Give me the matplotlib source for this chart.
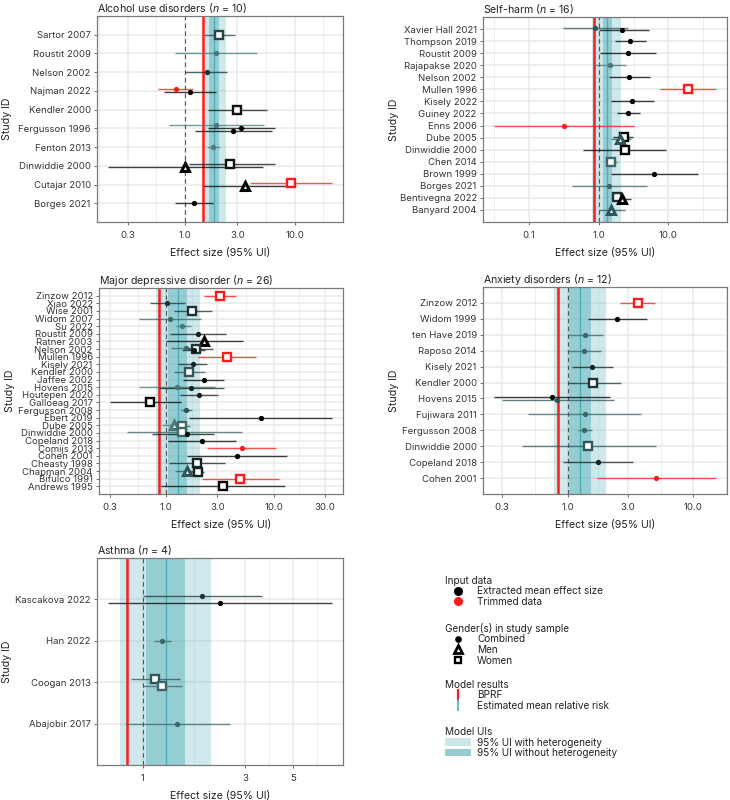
import numpy as np
import matplotlib
matplotlib.use('Agg')
import matplotlib.pyplot as plt
from matplotlib.colors import LinearSegmentedColormap
from matplotlib.lines import Line2D
from matplotlib.patches import Patch

plt.rcParams['font.family'] = ['Inter', 'DejaVu Sans']
plt.rcParams['mathtext.fontset'] = 'custom'
plt.rcParams['mathtext.rm'] = 'Inter'
plt.rcParams['mathtext.it'] = 'Inter:italic'

# ---------------- data (effect sizes) ----------------
# Alcohol use disorders
AUD_STUDY = ['Sartor 2007', 'Roustit 2009', 'Nelson 2002', 'Najman 2022', 'Najman 2022',
             'Kendler 2000', 'Fergusson 1996', 'Fergusson 1996', 'Fergusson 1996',
             'Fenton 2013', 'Dinwiddie 2000', 'Dinwiddie 2000', 'Cutajar 2010',
             'Cutajar 2010', 'Borges 2021']
AUD_MEAN = [2.05, 1.91, 1.59, 0.83, 1.11, 3.01, 1.94, 3.27, 2.75, 1.81, 2.55, 1.01, 9.26, 3.51, 1.22]
AUD_LOWER = [1.49, 0.81, 1.01, 0.57, 0.64, 1.63, 0.72, 1.62, 1.23, 1.60, 1.09, 0.20, 3.90, 1.49, 0.81]
AUD_UPPER = [2.87, 4.54, 2.44, 1.19, 1.94, 5.60, 5.23, 6.67, 6.22, 2.11, 6.67, 5.15, 21.8, 8.40, 1.81]
AUD_SEX = ['W', 'C', 'C', 'C', 'C', 'W', 'C', 'C', 'C', 'C', 'W', 'M', 'W', 'M', 'C']
AUD_TRIM = [0, 0, 0, 1, 0, 0, 0, 0, 0, 0, 0, 0, 1, 0, 0]
AUD_WEIGHT = [0.6, 0.3, 0.7, 0.0, 1.0, 0.9, 0.3, 1.0, 1.0, 0.25, 0.9, 1.0, 0.0, 1.0, 1.0]
# bprf, mean, lower/upper without heterogeneity, lower/upper with heterogeneity
AUD_MODEL = [1.47, 1.84, 1.66, 2.05, 1.52, 2.39]

# Self-harm
SH_STUDY = ['Xavier Hall 2021', 'Xavier Hall 2021', 'Thompson 2019', 'Roustit 2009',
            'Rajapakse 2020', 'Nelson 2002', 'Mullen 1996', 'Kisely 2022', 'Guiney 2022',
            'Enns 2006', 'Dube 2005', 'Dube 2005', 'Dinwiddie 2000', 'Chen 2014',
            'Brown 1999', 'Borges 2021', 'Bentivegna 2022', 'Bentivegna 2022', 'Banyard 2004']
SH_MEAN = [0.90, 2.19, 2.81, 2.63, 1.45, 2.72, 18.9, 3.00, 2.63, 0.32, 2.29, 2.05, 2.36, 1.50,
           6.17, 1.40, 1.82, 2.19, 1.50]
SH_LOWER = [0.31, 1.00, 1.69, 1.06, 0.87, 1.39, 7.5, 1.50, 1.82, 0.032, 1.60, 1.50, 0.60, 1.26,
            1.51, 0.41, 1.55, 1.63, 1.01]
SH_UPPER = [2.66, 5.20, 4.74, 6.58, 2.47, 5.46, 47.7, 6.20, 3.86, 3.20, 3.10, 2.90, 9.10, 1.86,
            26.2, 4.90, 2.30, 2.87, 2.39]
SH_SEX = ['C', 'C', 'C', 'C', 'C', 'C', 'W', 'C', 'C', 'C', 'W', 'M', 'W', 'W', 'C', 'C', 'W', 'M', 'M']
SH_TRIM = [0, 0, 0, 0, 0, 0, 1, 0, 0, 1, 0, 0, 0, 0, 0, 0, 0, 0, 0]
SH_WEIGHT = [0.5, 1.0, 1.0, 1.0, 0.3, 1.0, 0.0, 1.0, 1.0, 0.0, 1.0, 0.5, 1.0, 0.4, 1.0, 0.4,
             0.7, 1.0, 0.5]
SH_MODEL = [0.85, 1.33, 1.15, 1.55, 0.80, 2.10]

# Major depressive disorder
MDD_STUDY = ['Zinzow 2012', 'Xiao 2022', 'Wise 2001', 'Widom 2007', 'Su 2022', 'Roustit 2009',
             'Ratner 2003', 'Nelson 2002', 'Nelson 2002', 'Nelson 2002', 'Mullen 1996',
             'Kisely 2021', 'Kendler 2000', 'Jaffee 2002', 'Hovens 2015', 'Hovens 2015',
             'Houtepen 2020', 'Galloeag 2017', 'Fergusson 2008', 'Ebert 2019', 'Dube 2005',
             'Dube 2005', 'Dinwiddie 2000', 'Dinwiddie 2000', 'Copeland 2018', 'Comijs 2013',
             'Cohen 2001', 'Cheasty 1998', 'Chapman 2004', 'Chapman 2004', 'Bifulco 1991',
             'Andrews 1995']
MDD_MEAN = [3.15, 1.02, 1.75, 1.09, 1.41, 1.97, 2.27, 1.53, 1.89, 1.80, 3.68, 1.76, 1.64, 2.23,
            1.26, 1.71, 2.01, 0.71, 1.54, 7.57, 1.18, 1.39, 1.41, 1.55, 2.13, 5.09, 4.58, 1.95,
            1.57, 1.97, 4.89, 3.38]
MDD_LOWER = [2.24, 0.71, 1.19, 0.56, 1.23, 1.09, 1.00, 1.10, 1.45, 1.40, 1.99, 1.30, 1.19, 1.42,
             0.56, 0.86, 1.35, 0.30, 1.37, 1.63, 0.91, 1.15, 0.43, 0.73, 1.03, 2.42, 1.57, 1.07,
             1.20, 1.55, 2.13, 0.89]
MDD_UPPER = [4.48, 1.50, 2.68, 2.10, 1.70, 3.57, 5.23, 2.10, 2.70, 2.30, 6.90, 2.42, 2.31, 3.47,
             2.83, 3.45, 3.04, 1.36, 1.73, 34.9, 1.50, 1.68, 5.07, 2.76, 4.45, 10.6, 13.4, 3.52,
             2.05, 2.24, 11.3, 12.8]
MDD_SEX = ['W', 'C', 'W', 'C', 'C', 'C', 'M', 'C', 'W', 'C', 'W', 'C', 'W', 'C', 'C', 'C', 'C',
           'W', 'C', 'C', 'M', 'W', 'W', 'C', 'C', 'C', 'C', 'W', 'M', 'W', 'W', 'W']
MDD_TRIM = [1, 0, 0, 0, 0, 0, 0, 0, 0, 0, 1, 0, 0, 0, 0, 0, 0, 0, 0, 0, 0, 0, 0, 0, 0, 1, 0, 0,
            0, 0, 1, 0]
MDD_WEIGHT = [0.0, 0.7, 0.7, 0.4, 0.3, 0.8, 1.0, 0.4, 0.7, 0.9, 0.0, 0.8, 0.5, 1.0, 0.3, 0.8,
              0.8, 1.0, 0.5, 1.0, 0.3, 0.4, 0.4, 0.9, 1.0, 0.0, 1.0, 0.8, 0.5, 0.8, 0.0, 1.0]
MDD_MODEL = [0.85, 1.28, 1.03, 1.55, 0.80, 2.05]

# Anxiety disorders
ANX_STUDY = ['Zinzow 2012', 'Widom 1999', 'ten Have 2019', 'Raposo 2014', 'Kisely 2021',
             'Kendler 2000', 'Hovens 2015', 'Hovens 2015', 'Fujiwara 2011', 'Fergusson 2008',
             'Dinwiddie 2000', 'Copeland 2018', 'Cohen 2001']
ANX_MEAN = [3.61, 2.48, 1.38, 1.35, 1.57, 1.60, 0.75, 0.83, 1.37, 1.36, 1.46, 1.75, 5.00]
ANX_LOWER = [2.61, 1.45, 1.00, 0.99, 1.09, 1.00, 0.26, 0.30, 0.48, 1.20, 0.43, 0.92, 1.70]
ANX_UPPER = [4.97, 4.24, 1.90, 1.85, 2.28, 2.67, 2.18, 2.35, 3.86, 1.56, 5.06, 3.32, 15.1]
ANX_SEX = ['W', 'C', 'C', 'C', 'C', 'W', 'C', 'C', 'C', 'C', 'W', 'C', 'C']
ANX_TRIM = [1, 0, 0, 0, 0, 0, 0, 0, 0, 0, 0, 0, 1]
ANX_WEIGHT = [0.0, 1.0, 0.4, 0.4, 0.8, 0.7, 1.0, 0.5, 0.4, 0.4, 0.5, 0.8, 0.0]
ANX_MODEL = [0.84, 1.26, 1.02, 1.53, 0.785, 2.02]

# Asthma
AST_STUDY = ['Kascakova 2022', 'Kascakova 2022', 'Han 2022', 'Coogan 2013', 'Coogan 2013',
             'Abajobir 2017']
AST_MEAN = [1.89, 2.29, 1.23, 1.14, 1.23, 1.45]
AST_LOWER = [1.00, 0.69, 1.13, 0.88, 1.00, 0.83]
AST_UPPER = [3.60, 7.60, 1.35, 1.49, 1.53, 2.55]
AST_SEX = ['C', 'C', 'C', 'W', 'W', 'C']
AST_TRIM = [0, 0, 0, 0, 0, 0]
AST_WEIGHT = [0.7, 1.0, 0.4, 0.5, 0.4, 0.4]
AST_MODEL = [0.845, 1.28, 1.036, 1.57, 0.78, 2.08]

# ---------------- styling ----------------
RED = '#ff1a1a'
TEAL = '#5fb3bd'
MEAN_LINE = '#4aaeb8'
GRID = '#ebebeb'
weight_cmap = LinearSegmentedColormap.from_list('w', ['#6fa4a7', '#2f5658', '#000000'])
MARKERS = {'C': dict(marker='o', ms=3.8, mew=0),
           'M': dict(marker='^', ms=6.0, mew=2.2),
           'W': dict(marker='s', ms=5.4, mew=1.7)}
DODGE = 0.16


def minor_breaks(major, lo, hi):
    lm = np.log10(major)
    ext = np.concatenate([[lm[0] - (lm[1] - lm[0])], lm, [lm[-1] + (lm[-1] - lm[-2])]])
    mids = (ext[:-1] + ext[1:]) / 2
    mids = mids[(mids > np.log10(lo)) & (mids < np.log10(hi))]
    return 10 ** mids


def panel(rect, title, study, mean, lower, upper, sex, trim, weight, model, ticks, ticklabels):
    ax = fig.add_axes(rect)
    rows = sorted(set(study), key=str.lower)
    ypos = {s: i + 1 for i, s in enumerate(rows)}

    # x limits: data range + 5% in log space
    lo_all = min(min(lower), *model)
    hi_all = max(max(upper), *model)
    span = np.log10(hi_all) - np.log10(lo_all)
    xlo = 10 ** (np.log10(lo_all) - 0.05 * span)
    xhi = 10 ** (np.log10(hi_all) + 0.05 * span)
    ax.set_xscale('log')
    ax.set_xlim(xlo, xhi)
    ax.set_ylim(0, len(rows) + 1)

    # grid
    for s in rows:
        ax.axhline(ypos[s], color=GRID, lw=1.1, zorder=0)
    for t in ticks:
        ax.axvline(t, color=GRID, lw=1.1, zorder=0)
    for t in minor_breaks(ticks, xlo, xhi):
        ax.axvline(t, color=GRID, lw=0.6, zorder=0)

    bprf, mu, lo_n, hi_n, lo_h, hi_h = model
    ax.axvspan(lo_h, hi_h, color=TEAL, alpha=0.3, lw=0, zorder=1)
    ax.axvspan(lo_n, hi_n, color=TEAL, alpha=0.5, lw=0, zorder=1.1)
    ax.axvline(mu, color=MEAN_LINE, lw=1.0, zorder=1.2)
    ax.axvline(1.0, color='#555555', lw=0.8, dashes=(4, 3), zorder=1.3)
    ax.axvline(bprf, color=RED, lw=1.8, zorder=1.4)

    # dodge points within a study
    counts = {s: study.count(s) for s in rows}
    seen = {s: 0 for s in rows}
    for s, m, lo, hi, g, tr, w in zip(study, mean, lower, upper, sex, trim, weight):
        k = counts[s]
        j = seen[s]
        seen[s] += 1
        y = ypos[s] + ((k - 1) / 2 - j) * DODGE
        col = RED if tr else weight_cmap(w)
        ax.plot([lo, hi], [y, y], color=col, lw=1.0, alpha=0.75, zorder=2,
                solid_capstyle='butt')
        st = MARKERS[g]
        fc = col if g == 'C' else 'white'
        ax.plot([m], [y], ls='none', marker=st['marker'], ms=st['ms'], mew=st['mew'],
                mec=col, mfc=fc, zorder=3)

    ax.set_yticks([ypos[s] for s in rows])
    ax.set_yticklabels(rows)
    ax.set_xticks(ticks)
    ax.set_xticklabels(ticklabels)
    ax.xaxis.set_minor_locator(matplotlib.ticker.NullLocator())
    ax.tick_params(labelsize=6.9, colors='#333333', length=2.5, width=0.6, pad=2,
                   color='#555555')
    ax.tick_params(axis='x', pad=4)
    for sp in ax.spines.values():
        sp.set_color('#7a7a7a')
        sp.set_linewidth(0.9)
    ax.set_title(title, loc='left', fontsize=7.6, pad=3, color='#222222')
    ax.set_xlabel('Effect size (95% UI)', fontsize=7.6, color='#222222', labelpad=6)
    ax.set_ylabel('Study ID', fontsize=7.6, color='#222222')
    ax.yaxis.set_label_coords(-0.345, 0.5)
    return ax


W, H = 730, 800
fig = plt.figure(figsize=(W / 100, H / 100), dpi=100)


def rect(l, t, r, b):
    return [l / W, 1 - b / H, (r - l) / W, (b - t) / H]


panel(rect(97, 16, 343, 222), 'Alcohol use disorders ($\\it{n}$ = 10)', AUD_STUDY, AUD_MEAN,
      AUD_LOWER, AUD_UPPER, AUD_SEX, AUD_TRIM, AUD_WEIGHT, AUD_MODEL,
      [0.3, 1, 3, 10], ['0.3', '1.0', '3.0', '10.0'])
panel(rect(483, 17, 727, 222), 'Self-harm ($\\it{n}$ = 16)', SH_STUDY, SH_MEAN, SH_LOWER,
      SH_UPPER, SH_SEX, SH_TRIM, SH_WEIGHT, SH_MODEL, [0.1, 1, 10], ['0.1', '1.0', '10.0'])
panel(rect(99, 288, 343, 494), 'Major depressive disorder ($\\it{n}$ = 26)', MDD_STUDY,
      MDD_MEAN, MDD_LOWER, MDD_UPPER, MDD_SEX, MDD_TRIM, MDD_WEIGHT, MDD_MODEL,
      [0.3, 1, 3, 10, 30], ['0.3', '1.0', '3.0', '10.0', '30.0'])
panel(rect(483, 287, 727, 494), 'Anxiety disorders ($\\it{n}$ = 12)', ANX_STUDY, ANX_MEAN,
      ANX_LOWER, ANX_UPPER, ANX_SEX, ANX_TRIM, ANX_WEIGHT, ANX_MODEL,
      [0.3, 1, 3, 10], ['0.3', '1.0', '3.0', '10.0'])
panel(rect(97, 558, 343, 765), 'Asthma ($\\it{n}$ = 4)', AST_STUDY, AST_MEAN, AST_LOWER,
      AST_UPPER, AST_SEX, AST_TRIM, AST_WEIGHT, AST_MODEL, [1, 3, 5], ['1', '3', '5'])

# ---------------- legends ----------------
leg_kw = dict(loc='upper left', frameon=False, fontsize=7.2, title_fontsize=7.2,
              alignment='left', handlelength=2.6, handletextpad=0.6, borderpad=0,
              borderaxespad=0, labelspacing=0.05, handleheight=0.8)

groups = [
    ('Input data', 576,
     [Line2D([], [], ls='none', marker='o', ms=5.5, color='black'),
      Line2D([], [], ls='none', marker='o', ms=5.5, color=RED)],
     ['Extracted mean effect size', 'Trimmed data']),
    ('Gender(s) in study sample', 623,
     [Line2D([], [], ls='none', marker='o', ms=3.8, color='black'),
      Line2D([], [], ls='none', marker='^', ms=5.5, mew=2.0, mec='black', mfc='white'),
      Line2D([], [], ls='none', marker='s', ms=5, mew=1.7, mec='black', mfc='white')],
     ['Combined', 'Men', 'Women']),
    ('Model results', 680,
     [Line2D([], [], ls='none', marker='|', ms=9, mew=1.6, color=RED),
      Line2D([], [], ls='none', marker='|', ms=9, mew=1.2, color=MEAN_LINE)],
     ['BPRF', 'Estimated mean relative risk']),
    ('Model UIs', 727,
     [Patch(facecolor='#cce6e9', edgecolor='none'),
      Patch(facecolor='#96cdd2', edgecolor='none')],
     ['95% UI with heterogeneity', '95% UI without heterogeneity']),
]
for title, top, handles, labels in groups:
    lg = fig.legend(handles, labels, title=title, bbox_to_anchor=(445 / W, 1 - top / H),
                    **leg_kw)
    lg.get_title().set_color('#222222')
    for t in lg.get_texts():
        t.set_color('#222222')

fig.savefig('out.png', dpi=100)
